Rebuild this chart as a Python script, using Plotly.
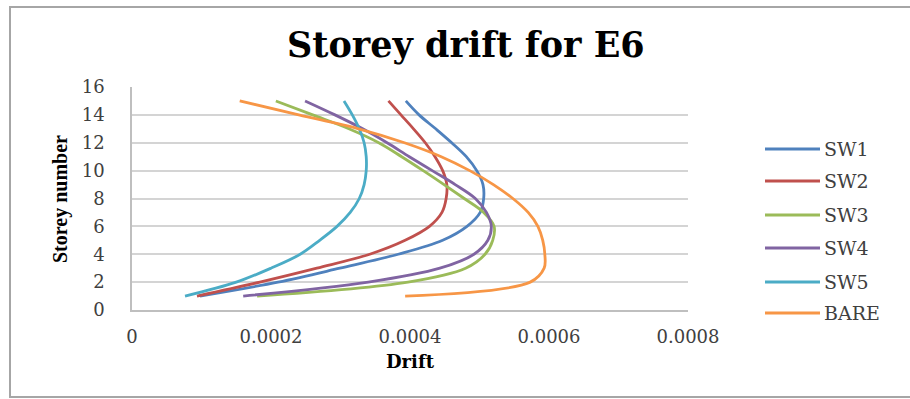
import plotly.graph_objects as go

# Storey levels and drift values per model
storeys = list(range(1, 16))

sw1 = [0.0000978, 0.000210, 0.000299, 0.000383, 0.000447, 0.000482, 0.000501, 0.000506,
       0.000505, 0.000496, 0.000481, 0.000460, 0.000437, 0.000413, 0.000394]
sw2 = [0.0000935, 0.000184, 0.000266, 0.000342, 0.000393, 0.000428, 0.000446, 0.000452,
       0.000453, 0.000447, 0.000436, 0.000422, 0.000405, 0.000387, 0.000369]
sw3 = [0.000180, 0.000397, 0.000480, 0.000508, 0.000519, 0.000521, 0.000506, 0.000478,
       0.000449, 0.000419, 0.000388, 0.000355, 0.000312, 0.000260, 0.000207]
sw4 = [0.000160, 0.000340, 0.000443, 0.000492, 0.000512, 0.000517, 0.000510, 0.000494,
       0.000465, 0.000432, 0.000399, 0.000367, 0.000332, 0.000292, 0.000249]
sw5 = [0.0000763, 0.000150, 0.000200, 0.000242, 0.000270, 0.000295, 0.000314, 0.000327,
       0.000334, 0.000337, 0.000337, 0.000334, 0.000327, 0.000317, 0.000305]
bare = [0.000393, 0.000573, 0.000593, 0.000594, 0.000591, 0.000584, 0.000570, 0.000548,
        0.000520, 0.000486, 0.000445, 0.000392, 0.000326, 0.000240, 0.000155]

series_names = ["SW1", "SW2", "SW3", "SW4", "SW5", "BARE"]
series_values = [sw1, sw2, sw3, sw4, sw5, bare]
series_colors = ["#4F81BD", "#C0504D", "#9BBB59", "#8064A2", "#4BACC6", "#F79646"]

x_ticks = [0, 0.0002, 0.0004, 0.0006, 0.0008]
x_tick_text = ["0", "0.0002", "0.0004", "0.0006", "0.0008"]
y_ticks = list(range(0, 17, 2))

W, H = 910, 399
L, R, T, B = 132, 688, 87, 310  # plot area edges in pixels


def px_x(p):
    return (p - L) / (R - L)


def px_y(p):
    return (B - p) / (B - T)


fig = go.Figure()
for name, vals, col in zip(series_names, series_values, series_colors):
    fig.add_trace(go.Scatter(
        x=vals, y=storeys, name=name, mode="lines",
        line=dict(color=col, width=2.8, shape="spline", smoothing=1.0),
        showlegend=False,
    ))

tick_font = dict(family="DejaVu Serif", size=18, color="#404040")

fig.update_xaxes(
    range=[0, 0.0008], tickvals=x_ticks, ticktext=x_tick_text,
    showgrid=False, zeroline=False, showline=True, linecolor="#BFBFBF", linewidth=1.5,
    tickfont=tick_font, ticks="", ticklabelstandoff=10,
)
fig.update_yaxes(
    range=[0, 16], tickvals=y_ticks,
    showgrid=True, gridcolor="#D4D4D4", gridwidth=1.5, zeroline=False,
    showline=True, linecolor="#BFBFBF", linewidth=1.5,
    tickfont=tick_font, ticks="", ticklabelstandoff=22,
)

shapes = [
    # outer chart frame
    dict(type="rect", xref="paper", yref="paper",
         x0=px_x(10), x1=px_x(918), y0=px_y(397), y1=px_y(7),
         line=dict(color="#A6A6A6", width=2), fillcolor="rgba(0,0,0,0)", layer="below"),
]
annotations = [
    dict(text="Storey drift for E6", xref="paper", yref="paper",
         x=px_x(466), y=px_y(45), xanchor="center", yanchor="middle", showarrow=False,
         font=dict(family="DejaVu Serif", size=35, color="#000000", weight=700)),
    dict(text="Drift", xref="paper", yref="paper",
         x=px_x(410), y=px_y(361), xanchor="center", yanchor="middle", showarrow=False,
         font=dict(family="DejaVu Serif", size=18, color="#000000", weight=700)),
    dict(text="Storey number", xref="paper", yref="paper", textangle=-90,
         x=px_x(60), y=px_y(199), xanchor="center", yanchor="middle", showarrow=False,
         font=dict(family="Liberation Serif", size=20, color="#000000", weight=700)),
]

# legend: a short line sample and the series name for each entry
legend_rows = [149, 181, 215, 248, 282, 313]
for name, col, ry in zip(series_names, series_colors, legend_rows):
    shapes.append(dict(type="line", xref="paper", yref="paper",
                       x0=px_x(765), x1=px_x(820), y0=px_y(ry), y1=px_y(ry),
                       line=dict(color=col, width=3)))
    annotations.append(dict(text=name, xref="paper", yref="paper",
                            x=px_x(822), y=px_y(ry), xanchor="left", yanchor="middle",
                            showarrow=False,
                            font=dict(family="DejaVu Serif", size=19, color="#404040")))

fig.update_layout(
    width=W, height=H,
    margin=dict(l=L, r=W - R, t=T, b=H - B),
    paper_bgcolor="white", plot_bgcolor="white",
    shapes=shapes, annotations=annotations,
    showlegend=False,
)

fig.write_html("out.html")
